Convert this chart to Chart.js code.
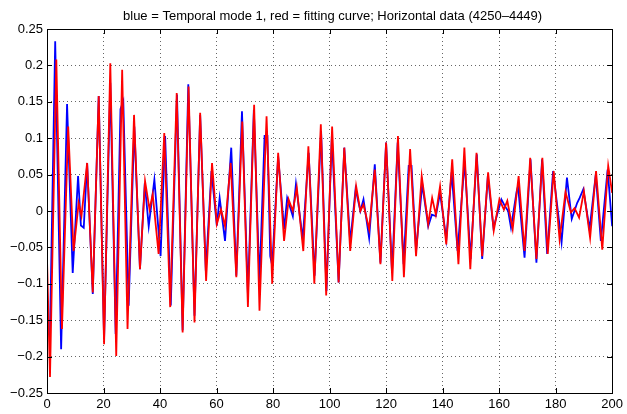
<!DOCTYPE html>
<html>
<head>
<meta charset="utf-8">
<title>Temporal mode 1</title>
<script src="https://cdn.jsdelivr.net/npm/chart.js@4/dist/chart.umd.min.js"></script>
<style>
    html, body { margin: 0; padding: 0; background: #fff; }
    #wrap { width: 627px; height: 414px; }
</style>
</head>
<body>
<div id="wrap"><canvas id="myChart" width="627" height="414"></canvas></div>
<script>
'use strict'

const titleText = 'blue = Temporal mode 1, red = fitting curve; Horizontal data (4250\u20134449)';

// blue = temporal mode 1 (vertices)
const blueX = [1, 2.9, 5.0, 7.1, 9.1, 11, 12, 13, 14.2, 16.2, 18.3, 20.2, 22.4, 24.3, 26, 27, 28.9, 30.9, 32.9, 34.6,
    36, 38, 40.2, 41.8, 43.8, 46, 48, 50, 52.2, 54.2, 56.2, 58.2, 60.1, 61.1, 63, 65.2, 67, 69, 71.1, 73.2,
    75.2, 77, 78, 79, 79.7, 81.8, 83.9, 85, 87, 88.1, 90.5, 92.6, 94.7, 97, 98.9, 100.8, 103.2, 105.2, 107.3, 109.2,
    110.9, 112, 114, 116, 118, 120, 122.1, 124.1, 126.2, 128, 129, 130.6, 132.8, 134.9, 136.2, 137.6, 139.1, 141.3, 143.2, 145.3,
    147.8, 149.9, 152.1, 154, 156, 158, 160.8, 162, 163.2, 164.2, 166.2, 166.7, 169, 171.1, 173.2, 175.2, 177, 179.1, 182.1, 184,
    185.7, 187.6, 188.5, 189.8, 192, 194.2, 196, 198.4, 200];
const blueY = [-0.180, 0.233, -0.190, 0.147, -0.085, 0.048, -0.020, -0.023, 0.066, -0.114, 0.158, -0.176, 0.176, -0.169, 0.140, 0.151, -0.130, 0.116, -0.080, 0.038,
    -0.021, 0.043, -0.062, 0.103, -0.130, 0.160, -0.164, 0.174, -0.144, 0.132, -0.082, 0.055, -0.020, 0.018, -0.041, 0.087, -0.089, 0.137, -0.114, 0.139,
    -0.098, 0.103, 0.103, -0.062, -0.075, 0.075, -0.025, 0.018, -0.007, 0.037, -0.039, 0.080, -0.089, 0.110, -0.110, 0.103, -0.098, 0.087, -0.043, 0.030,
    0.000, 0.016, -0.037, 0.064, -0.071, 0.094, -0.084, 0.094, -0.073, 0.062, 0.062, -0.055, 0.037, -0.021, -0.005, -0.007, 0.025, -0.039, 0.053, -0.055,
    0.068, -0.066, 0.078, -0.066, 0.048, -0.023, 0.016, 0.007, 0.000, -0.023, 0.027, 0.034, -0.064, 0.071, -0.071, 0.071, -0.059, 0.055, -0.043, 0.046,
    -0.011, 0.011, 0.018, 0.030, -0.025, 0.050, -0.041, 0.057, -0.021];

// red = fitting curve
const redX = [0, 1.06, 3.3, 5.3, 7.5, 9.4, 11.2, 12.2, 14.2, 16.2, 18.3, 20.2, 22.4, 24.5, 26.6, 28.5, 30.8, 32.9, 34.7, 36.3,
    37.4, 39.5, 41.5, 43.6, 45.9, 48, 50.1, 52.2, 54.2, 56.3, 58.4, 60.1, 61.6, 63, 65, 67, 69.1, 71.1, 73.3, 75.2,
    77.7, 79.7, 81.8, 83.9, 85.5, 87, 88.4, 90.7, 92.5, 94.6, 96.9, 98.8, 100.9, 103.2, 105.2, 107.3, 109.4, 110.9, 112, 114,
    116, 118, 120, 122.2, 124.2, 126.3, 128.5, 130.6, 132.6, 134.9, 136.3, 137.6, 139.1, 141.3, 143.4, 145.6, 147.7, 149.8, 152, 154,
    156.1, 158.1, 160.1, 161.7, 162.9, 164.8, 166.9, 169, 171, 173.2, 175.3, 177.2, 179.3, 181.4, 183.5, 185.4, 186.7, 188.3, 190, 192.2,
    194.3, 196.5, 198.6, 200];
const redY = [-0.066, -0.228, 0.208, -0.162, 0.116, -0.055, 0.011, -0.007, 0.066, -0.112, 0.158, -0.183, 0.203, -0.199, 0.194, -0.162, 0.132, -0.080, 0.041, 0.002,
    0.023, -0.059, 0.107, -0.132, 0.162, -0.167, 0.171, -0.153, 0.135, -0.096, 0.066, -0.018, 0.002, -0.021, 0.066, -0.091, 0.123, -0.132, 0.146, -0.137,
    0.130, -0.100, 0.080, -0.041, 0.016, 0.000, 0.032, -0.055, 0.089, -0.100, 0.119, -0.116, 0.116, -0.098, 0.087, -0.055, 0.034, 0.000, 0.009, -0.025,
    0.057, -0.073, 0.094, -0.096, 0.103, -0.091, 0.085, -0.062, 0.048, -0.018, 0.018, -0.005, 0.034, -0.046, 0.071, -0.073, 0.087, -0.080, 0.080, -0.062,
    0.053, -0.027, 0.016, 0.002, 0.014, -0.025, 0.048, -0.055, 0.073, -0.066, 0.073, -0.059, 0.055, -0.039, 0.026, -0.002, 0.004, -0.009, 0.027, -0.037,
    0.055, -0.053, 0.062, 0.025];

const xMin = 0, xMax = 200, xStep = 20;
const yMin = -0.25, yMax = 0.25, yStep = 0.05;

const FONT = 'Liberation Sans, Arial, Helvetica, sans-serif';

function toPoints(xs, ys) {
    return xs.map((x, i) => ({x: x, y: ys[i]}));
}

function fmtY(v) {
    let s = String(parseFloat(v.toFixed(2)));
    if (s === '-0') s = '0';
    return s.replace('-', '\u2212');
}

// matlab like box: frame, inward ticks on all sides, title centered over the axes
const matlabBox = {
    id: 'matlabBox',
    afterDraw(chart) {
        const c = chart.ctx;
        const a = chart.chartArea;
        const sx = chart.scales.x, sy = chart.scales.y;
        const tl = 5;
        c.save();
        c.strokeStyle = '#000';
        c.lineWidth = 1;
        c.beginPath();
        for (let t of sx.ticks) {
            const px = Math.round(sx.getPixelForValue(t.value)) + 0.5;
            c.moveTo(px, a.bottom); c.lineTo(px, a.bottom - tl);
            c.moveTo(px, a.top); c.lineTo(px, a.top + tl);
        }
        for (let t of sy.ticks) {
            const py = Math.round(sy.getPixelForValue(t.value)) + 0.5;
            c.moveTo(a.left, py); c.lineTo(a.left + tl, py);
            c.moveTo(a.right, py); c.lineTo(a.right - tl, py);
        }
        c.stroke();
        c.strokeRect(Math.round(a.left) + 0.5, Math.round(a.top) + 0.5,
            Math.round(a.right - a.left), Math.round(a.bottom - a.top));
        c.fillStyle = '#000';
        c.font = '13px ' + FONT;
        c.textAlign = 'center';
        c.textBaseline = 'alphabetic';
        c.fillText(titleText, (a.left + a.right) / 2 + 3, 19.5);
        c.restore();
    }
};

const ctx = document.getElementById('myChart').getContext('2d');

const myChart = new Chart(ctx, {
    type: 'line',
    data: {
        datasets: [{
            label: 'fitting curve',
            data: toPoints(redX, redY),
            borderColor: '#ff0000',
            borderWidth: 1.8,
            pointRadius: 0,
            tension: 0
        }, {
            label: 'Temporal mode 1',
            data: toPoints(blueX, blueY),
            borderColor: '#0000ff',
            borderWidth: 1.8,
            pointRadius: 0,
            tension: 0
        }]
    },
    options: {
        responsive: false,
        animation: false,
        events: [],
        layout: {padding: {top: 29, right: 11, left: 0, bottom: 0}},
        plugins: {
            legend: {display: false},
            title: {display: false},
            tooltip: {enabled: false}
        },
        scales: {
            x: {
                type: 'linear',
                min: xMin, max: xMax,
                afterFit(s) { s.height = 21; },
                ticks: {
                    stepSize: xStep,
                    color: '#000',
                    padding: 4,
                    maxRotation: 0,
                    font: {family: FONT, size: 13}
                },
                grid: {color: 'rgba(0,0,0,0.6)', lineWidth: 1, drawTicks: false},
                border: {display: false, dash: [1, 3]}
            },
            y: {
                type: 'linear',
                min: yMin, max: yMax,
                afterFit(s) { s.width = 47; },
                ticks: {
                    stepSize: yStep,
                    color: '#000',
                    padding: 4,
                    font: {family: FONT, size: 13},
                    callback: (v) => fmtY(v)
                },
                grid: {color: 'rgba(0,0,0,0.6)', lineWidth: 1, drawTicks: false},
                border: {display: false, dash: [1, 3]}
            }
        }
    },
    plugins: [matlabBox]
});
</script>
</body>
</html>
